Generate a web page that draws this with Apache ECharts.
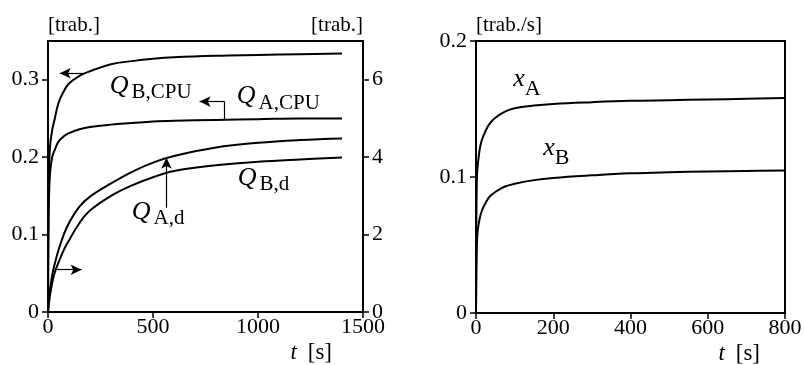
<!DOCTYPE html>
<html>
<head>
<meta charset="utf-8">
<script src="https://cdn.jsdelivr.net/npm/echarts@6/dist/echarts.min.js"></script>
<style>
  html, body { margin: 0; padding: 0; background: #fff; }
  #chart { width: 804px; height: 365px; }
</style>
</head>
<body>
<div id="chart"></div>
<script>
// Time grid of the left panel [s]
const tLeft = [0, 2, 5, 10, 20, 30, 50, 75, 100, 150, 200, 300, 400, 500, 600, 800, 1000, 1200, 1400];
// CPU queue lengths (left axis) [trab.]
const qBcpu = [0, 0.13, 0.18, 0.215, 0.235, 0.247, 0.27, 0.285, 0.295, 0.305, 0.311, 0.32, 0.324, 0.327, 0.329, 0.331, 0.332, 0.333, 0.334];
const qAcpu = [0, 0.1, 0.15, 0.18, 0.2, 0.208, 0.22, 0.227, 0.231, 0.236, 0.239, 0.242, 0.244, 0.246, 0.247, 0.248, 0.249, 0.25, 0.25];
// Disk queue lengths (right axis) [trab.]
const qAd = [0, 0.15, 0.35, 0.6, 0.95, 1.2, 1.6, 2.0, 2.3, 2.72, 2.98, 3.32, 3.62, 3.86, 4.03, 4.25, 4.37, 4.44, 4.48];
const qBd = [0, 0.1, 0.25, 0.45, 0.75, 0.98, 1.28, 1.6, 1.85, 2.3, 2.62, 3.0, 3.27, 3.48, 3.64, 3.79, 3.88, 3.94, 3.99];

// Time grid of the right panel [s]
const tRight = [0, 1, 2, 3, 5, 10, 15, 25, 35, 50, 75, 100, 150, 200, 300, 400, 500, 600, 700, 800];
// Throughputs [trab./s]
const xA = [0, 0.07, 0.095, 0.103, 0.11, 0.121, 0.127, 0.134, 0.139, 0.1435, 0.148, 0.1505, 0.1525, 0.1537, 0.155, 0.156, 0.1565, 0.157, 0.1575, 0.158];
const xB = [0, 0.03, 0.047, 0.055, 0.062, 0.07, 0.075, 0.081, 0.0855, 0.089, 0.093, 0.095, 0.0977, 0.0993, 0.1012, 0.1027, 0.1035, 0.104, 0.1044, 0.1047];

// Tick values
const leftTicks = [0, 0.1, 0.2, 0.3];
const rightTicks = [0, 2, 4, 6];

const FONT = '"Liberation Serif", "Times New Roman", serif';
const BLACK = '#000';
const TICK_FONT = 22;

const pairs = (ts, vs) => ts.map((t, i) => [t, vs[i]]);
const plain = v => String(v);

function tickLabel(margin, custom) {
  const o = { color: BLACK, fontFamily: FONT, fontSize: TICK_FONT, margin, formatter: plain };
  if (custom) o.customValues = custom;
  return o;
}

function valueAxis(extra) {
  return Object.assign({
    type: 'value',
    axisLine: { show: true, onZero: false, lineStyle: { color: BLACK, width: 2 } },
    axisTick: { show: true, inside: false, length: 6, lineStyle: { color: BLACK, width: 1.5 } },
    axisLabel: tickLabel(9),
    splitLine: { show: false },
    nameTextStyle: { color: BLACK, fontFamily: FONT, fontSize: 21 }
  }, extra);
}

function curve(name, data, xi, yi) {
  return {
    type: 'line', name, data, xAxisIndex: xi, yAxisIndex: yi,
    smooth: 0.4, showSymbol: false, symbol: 'none',
    lineStyle: { color: BLACK, width: 2 }, animation: false, silent: true
  };
}

// Pointer arrows in left-panel data units (left axis)
const arrowLine = (a, b, head) => [
  { coord: a, symbol: 'none' },
  { coord: b, symbol: head ? 'arrow' : 'none' }
];
const pointers = [
  arrowLine([175, 0.3084], [56, 0.3084], true),
  arrowLine([841, 0.2485], [841, 0.2718], false),
  arrowLine([841, 0.2718], [722, 0.2718], true),
  arrowLine([564, 0.1346], [564, 0.1991], true),
  arrowLine([32, 0.0546], [160, 0.0546], true)
];

const timeName = {
  name: '{i|t} [s]', nameLocation: 'end',
  nameTextStyle: { color: BLACK, fontFamily: FONT, fontSize: 23, align: 'right', verticalAlign: 'top', padding: [29, 0, 0, 0],
    rich: { i: { fontStyle: 'italic', fontFamily: FONT, fontSize: 23, color: BLACK, padding: [0, 5, 0, 0] } } }
};

const chart = echarts.init(document.getElementById('chart'), null, { renderer: 'canvas' });

const qBcpuSeries = curve('Q_B,CPU', pairs(tLeft, qBcpu), 0, 0);
qBcpuSeries.markLine = {
  silent: true, animation: false,
  symbol: ['none', 'arrow'], symbolSize: [8, 11],
  label: { show: false },
  lineStyle: { color: BLACK, width: 1.2, type: 'solid' },
  data: pointers
};

chart.setOption({
  animation: false,
  backgroundColor: '#fff',
  textStyle: { fontFamily: FONT },
  grid: [
    { left: 48, top: 41, width: 315, height: 271, show: true, borderColor: BLACK, borderWidth: 2, containLabel: false, outerBoundsMode: 'none' },
    { left: 476, top: 41, width: 309, height: 272, show: true, borderColor: BLACK, borderWidth: 2, containLabel: false, outerBoundsMode: 'none' }
  ],
  xAxis: [
    valueAxis(Object.assign({ gridIndex: 0, min: 0, max: 1500, interval: 500, axisLabel: tickLabel(4), nameGap: -31 }, timeName)),
    valueAxis(Object.assign({ gridIndex: 1, min: 0, max: 800, interval: 200, axisLabel: tickLabel(4), nameGap: -25 }, timeName))
  ],
  yAxis: [
    valueAxis({ gridIndex: 0, position: 'left', min: 0, max: 0.35,
      axisTick: { show: true, length: 6, customValues: leftTicks, lineStyle: { color: BLACK, width: 1.5 } },
      axisLabel: tickLabel(9, leftTicks),
      name: '[trab.]', nameLocation: 'end', nameGap: 5,
      nameTextStyle: { color: BLACK, fontFamily: FONT, fontSize: 21, align: 'left' } }),
    valueAxis({ gridIndex: 0, position: 'right', min: 0, max: 7,
      axisTick: { show: true, length: 6, customValues: rightTicks, lineStyle: { color: BLACK, width: 1.5 } },
      axisLabel: tickLabel(9, rightTicks),
      name: '[trab.]', nameLocation: 'end', nameGap: 5,
      nameTextStyle: { color: BLACK, fontFamily: FONT, fontSize: 21, align: 'right' } }),
    valueAxis({ gridIndex: 1, position: 'left', min: 0, max: 0.2, interval: 0.1,
      name: '[trab./s]', nameLocation: 'end', nameGap: 5,
      nameTextStyle: { color: BLACK, fontFamily: FONT, fontSize: 21, align: 'left' } })
  ],
  series: [
    qBcpuSeries,
    curve('Q_A,CPU', pairs(tLeft, qAcpu), 0, 0),
    curve('Q_A,d', pairs(tLeft, qAd), 0, 1),
    curve('Q_B,d', pairs(tLeft, qBd), 0, 1),
    curve('x_A', pairs(tRight, xA), 1, 2),
    curve('x_B', pairs(tRight, xB), 1, 2)
  ]
});

// Curve names with subscripts, anchored at the top-left of each label in data units
const qRich = {
  m: { fontFamily: FONT, fontStyle: 'italic', fontSize: 26, lineHeight: 24, verticalAlign: 'top', fill: BLACK },
  s: { fontFamily: FONT, fontSize: 21, lineHeight: 40, padding: [0, 0, 0, 3], fill: BLACK }
};
const xRich = {
  m: { fontFamily: FONT, fontStyle: 'italic', fontSize: 26, lineHeight: 26, verticalAlign: 'top', fill: BLACK },
  s: { fontFamily: FONT, fontSize: 22, lineHeight: 47, fill: BLACK }
};
const curveLabels = [
  { series: 0, at: [294, 0.3088], main: 'Q', sub: 'B,CPU', rich: qRich },
  { series: 0, at: [899, 0.2951], main: 'Q', sub: 'A,CPU', rich: qRich },
  { series: 0, at: [399, 0.1462], main: 'Q', sub: 'A,d', rich: qRich },
  { series: 0, at: [903, 0.190], main: 'Q', sub: 'B,d', rich: qRich },
  { series: 4, at: [96.5, 0.1816], main: 'x', sub: 'A', rich: xRich },
  { series: 4, at: [174, 0.131], main: 'x', sub: 'B', rich: xRich }
];

chart.setOption({
  graphic: curveLabels.map(l => {
    const p = chart.convertToPixel({ seriesIndex: l.series }, l.at);
    return {
      type: 'text', x: p[0], y: p[1], silent: true,
      style: { text: '{m|' + l.main + '}{s|' + l.sub + '}', rich: l.rich, align: 'left', verticalAlign: 'top' }
    };
  })
});
</script>
</body>
</html>
